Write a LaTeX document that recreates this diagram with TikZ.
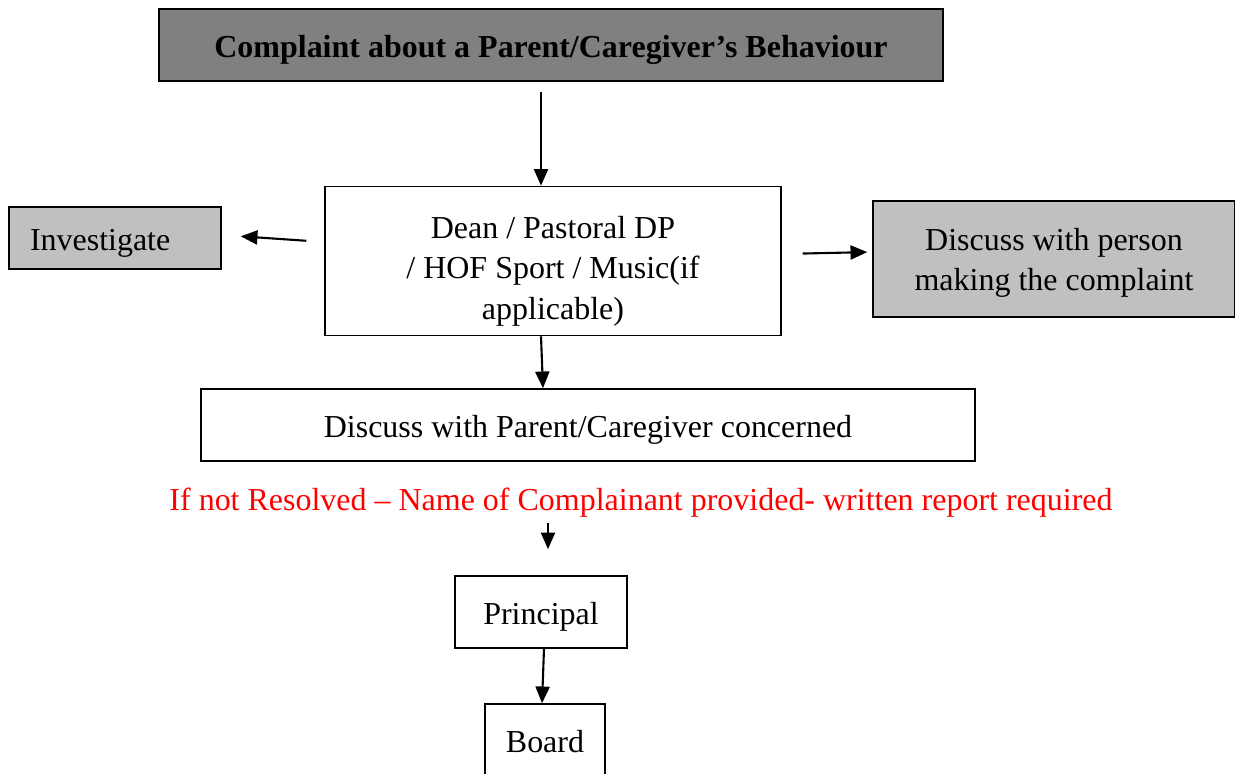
\documentclass[tikz,border=0pt]{standalone}
\usepackage{fontspec}
\setmainfont{Liberation Serif}
\usetikzlibrary{arrows.meta}
\definecolor{darkbox}{RGB}{128,128,128}
\definecolor{lightbox}{RGB}{192,192,192}
\newcommand{\boxfont}{\fontsize{18.2}{23}\selectfont}

\begin{document}
\begin{tikzpicture}[x=0.02cm,y=-0.02cm]
\tikzstyle{every node}+=[font=\boxfont]
\tikzstyle{flowbox}=[draw=black, line width=0.9pt, rectangle, align=center, inner sep=0pt]
\tikzstyle{oneline}=[text height=18pt, text depth=4pt]
\tikzstyle{flowarrow}=[line width=1.2pt, -{Triangle[length=9.5pt,width=8pt]}]
\useasboundingbox (0,0) rectangle (1235,774);
\clip (0,0) rectangle (1235,774);
\node [flowbox, oneline, fill=darkbox, minimum width=15.68cm, minimum height=1.44cm, font=\boxfont\bfseries] (complaint) at (551,45) {Complaint about a Parent/Caregiver’s Behaviour};
\node [flowbox, minimum width=9.12cm, minimum height=2.98cm] (dean) at (553,261) {\rule{0pt}{24pt}Dean / Pastoral DP\\/ HOF Sport / Music(if\\applicable)};
\node [flowbox, oneline, fill=lightbox, minimum width=4.24cm, minimum height=1.24cm, text width=3.4cm, inner xsep=0.42cm, align=left] (investigate) at (115,238) {Investigate};
\node [flowbox, fill=lightbox, minimum width=7.24cm, minimum height=2.32cm] (person) at (1054,259) {\rule{0pt}{17pt}Discuss with person\\making the complaint};
\node [flowbox, oneline, minimum width=15.48cm, minimum height=1.44cm] (parent) at (588,425) {Discuss with Parent/Caregiver concerned};
\node [oneline, text=red, inner sep=0pt] (resolved) at (641,498) {If not Resolved – Name of Complainant provided- written report required};
\node [flowbox, oneline, minimum width=3.44cm, minimum height=1.44cm] (principal) at (541,612) {Principal};
\node [flowbox, oneline, minimum width=2.4cm, minimum height=1.44cm] (board) at (545,740) {Board};
\draw [flowarrow, shorten <=0.2cm] (complaint.south -| 541,0) -- (dean.north -| 541,0);
\draw [flowarrow, shorten <=0.36cm, shorten >=0.38cm] ([yshift=0.38cm]dean.west) -- ([yshift=0.06cm]investigate.east);
\draw [flowarrow, shorten <=0.42cm, shorten >=0.1cm] ([yshift=0.14cm]dean.east) -- ([yshift=0.14cm]person.west);
\draw [flowarrow] (dean.south -| 541,0) -- (parent.north -| 543,0);
\draw [flowarrow, shorten <=0.1cm, shorten >=0.52cm] (resolved.south -| 548,0) -- (principal.north -| 548,0);
\draw [flowarrow] (principal.south -| 544,0) -- (board.north -| 542,0);
\end{tikzpicture}
\end{document}
